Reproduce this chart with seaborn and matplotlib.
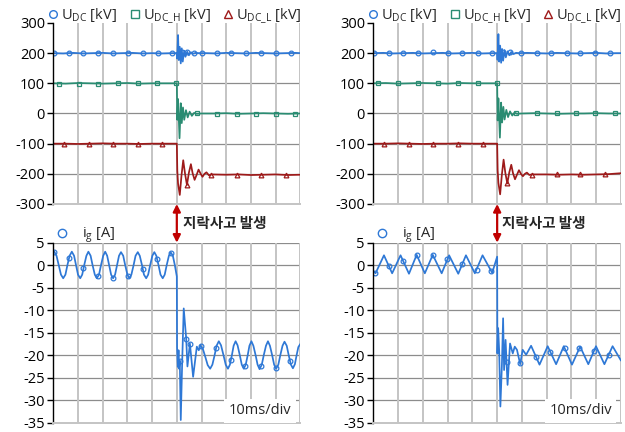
import numpy as np
import matplotlib
matplotlib.use("Agg")
import matplotlib.pyplot as plt
import seaborn as sns
from matplotlib.lines import Line2D
from matplotlib.patches import ConnectionPatch

# ---------------- data (time in ms) ----------------
# left column (case A)
udc_a_t = [0, 4, 8, 12, 16, 20, 24, 28, 32, 36, 40, 44, 48,
           50.0, 50.15, 50.5, 50.8, 51.2, 51.6, 52.0, 52.4, 53.0, 53.5, 54.2, 54.9, 55.7, 56.6, 57.6, 58.9,
           62, 66, 70, 74, 78, 82, 86, 90, 94, 98, 100]
udc_a_v = [200, 199, 201, 199, 200, 201, 199, 200, 201, 199, 200, 199, 200,
           200, 182, 260, 177, 221, 166, 216, 172, 208, 188, 205, 193, 203, 198, 201, 200,
           200, 199, 201, 200, 199, 201, 200, 199, 200, 201, 200]
udc_a_mk_t = [0.4, 6.4, 12.2, 18.2, 24.3, 30.2, 36.2, 42.2, 48.1, 52.0, 54.1, 56.8,
              60.2, 66.2, 72.0, 78.1, 84.2, 90.3, 96.2]
udc_a_mk_v = [201, 201, 200, 201, 200, 201, 201, 200, 201, 205, 204, 202,
              201, 201, 200, 201, 200, 201, 200]

udch_a_t = [0, 5, 10, 15, 20, 25, 30, 35, 40, 45, 49.8,
            50.0, 50.2, 50.5, 51.1, 51.6, 52.0, 52.5, 53.0, 53.7, 54.4, 55.2, 56.1, 57.0, 58.0,
            60, 65, 70, 75, 80, 85, 90, 95, 100]
udch_a_v = [100, 99, 101, 100, 99, 100, 101, 99, 100, 100, 100,
            100, -21, 48, -82, 34, -32, 20, -21, 11, -13, 6, -8, 2, -1,
            0, 0, 1, -1, 0, 1, 0, -1, 0]
udch_a_mk_t = [2.4, 10.4, 18.2, 26.3, 34.2, 41.9, 49.6, 58.1, 66.2, 74.3, 82.2, 90.1, 98.0]
udch_a_mk_v = [99, 99, 99, 100, 100, 100, 100, 0, -1, -1, -1, -1, -1]

udcl_a_t = [0, 5, 10, 15, 20, 25, 30, 35, 40, 45, 49.9,
            50.0, 50.2, 50.5, 51.2, 51.9, 52.6, 53.3, 54.1, 54.9, 55.7, 56.4, 57.2, 58.0, 58.8, 59.6,
            60.4, 61.2, 62.0, 63.0, 64.0,
            70, 75, 80, 85, 90, 95, 100]
udcl_a_v = [-100, -100, -101, -100, -99, -100, -100, -101, -100, -100, -100,
            -100, -190, -232, -270, -205, -155, -198, -237, -196, -168, -198, -220, -204, -186, -199,
            -210, -200, -195, -205, -202,
            -203, -202, -204, -203, -202, -204, -203]
udcl_a_mk_t = [4.5, 14.5, 24.3, 34.2, 44.2, 54.1, 63.9, 74.3, 84.2, 94.2]
udcl_a_mk_v = [-100, -100, -100, -100, -100, -236, -204, -203, -203, -203]

ig_a_t = [0.0, 0.4, 1.3, 2.2, 3.1, 4.0, 4.9, 5.7, 6.6, 7.5, 8.4, 9.2, 10.0, 10.9, 11.7, 12.5,
          13.4, 14.2, 15.1, 15.9, 16.8, 17.6, 18.5, 19.3, 20.2, 21.0, 21.8, 22.6, 23.4, 24.2,
          25.0, 25.8, 26.6, 27.4, 28.3, 29.1, 30.0, 30.8, 31.6, 32.5, 33.3, 34.2, 35.0, 35.9,
          36.7, 37.6, 38.4, 39.2, 40.1, 40.9, 41.7, 42.6, 43.4, 44.3, 45.1, 45.9, 46.8, 47.6,
          48.4, 49.2, 50.0,
          50.1, 50.4, 50.7, 50.9, 51.2, 51.6, 52.2, 52.8, 53.8, 54.3, 55.3, 56.6, 58.1, 58.9,
          59.6, 60.6, 61.6, 62.5, 63.5, 64.4, 65.3, 66.1, 67.0, 67.9, 68.9, 69.8, 70.7, 71.5,
          72.3, 73.0, 73.8, 74.6, 75.5, 76.3, 77.1, 77.9, 78.7, 79.4, 80.2, 81.0, 81.9, 82.7,
          83.5, 84.4, 85.2, 86.1, 86.9, 87.7, 88.6, 89.4, 90.2, 91.1, 91.9, 92.8, 93.6, 94.5,
          95.3, 96.2, 97.0, 97.8, 98.5, 99.2, 100.0]
ig_a_v = [2.8, 3.0, 2.1, 0.0, -2.1, -2.9, -2.1, 0.0, 2.1, 3.0, 2.1, 0.0, -2.1, -2.9, -2.1, 0.0,
          2.1, 3.0, 2.1, 0.0, -2.1, -2.9, -2.1, 0.0, 2.1, 3.0, 2.1, 0.0, -2.1, -2.9,
          -2.1, 0.0, 2.1, 2.9, 2.1, 0.0, -2.1, -2.9, -2.1, 0.0, 2.1, 2.9, 2.1, 0.0,
          -2.1, -2.9, -2.1, 0.0, 2.1, 2.9, 2.1, 0.0, -2.1, -2.9, -2.1, 0.0, 2.1, 2.8,
          2.1, 0.0, -2.5,
          -18.2, -22.6, -18.9, -23.0, -21.2, -34.4, -21.0, -9.6, -16.3, -22.5, -17.4, -24.8, -18.1, -18.9,
          -17.8, -18.7, -20.5, -22.2, -23.0, -22.1, -20.0, -17.9, -16.9, -17.8, -20.0, -22.1, -23.0, -22.1,
          -20.0, -17.9, -16.9, -17.8, -20.0, -22.1, -23.0, -22.1, -20.0, -17.9, -16.9, -17.9, -20.0, -22.1,
          -23.1, -22.1, -20.0, -17.9, -16.9, -17.9, -20.0, -22.1, -23.0, -22.1, -20.0, -17.9, -17.0, -17.9,
          -20.0, -22.1, -22.9, -22.0, -20.0, -18.2, -17.5]
ig_a_mk_t = [0.4, 6.3, 12.2, 18.2, 24.1, 30.2, 36.2, 41.9, 47.7,
             51.2, 53.8, 55.3, 59.7, 66.0, 72.0, 77.7, 84.2, 90.3, 96.0]
ig_a_mk_v = [3.0, 1.5, -0.6, -2.4, -2.9, -2.3, -0.8, 1.4, 2.8,
             -21.2, -16.3, -17.4, -17.9, -18.5, -21.0, -22.4, -22.3, -22.9, -21.2]

# right column (case B)
udc_b_t = [0, 4, 8, 12, 16, 20, 24, 28, 32, 36, 40, 44, 48,
           50.0, 50.15, 50.5, 50.8, 51.2, 51.6, 52.0, 52.4, 53.0, 53.5, 54.2, 54.9, 55.7, 56.6, 57.6, 58.9,
           62, 66, 70, 74, 78, 82, 86, 90, 94, 98, 100]
udc_b_v = [200, 201, 199, 200, 201, 199, 200, 201, 199, 200, 201, 199, 200,
           200, 178, 263, 172, 225, 168, 214, 175, 210, 186, 206, 193, 204, 197, 201, 200,
           201, 200, 199, 201, 200, 199, 200, 201, 199, 200, 200]
udc_b_mk_t = [0.3, 6.3, 12.1, 18.1, 24.2, 30.2, 36.0, 42.1, 48.1, 52.2, 55.1,
              59.8, 65.9, 71.9, 78.0, 83.6, 89.7, 95.4]
udc_b_mk_v = [201, 201, 200, 201, 203, 201, 200, 201, 201, 205, 203,
              202, 201, 201, 200, 201, 201, 200]

udch_b_t = [0, 5, 10, 15, 20, 25, 30, 35, 40, 45, 49.8,
            50.0, 50.2, 50.5, 51.1, 51.6, 52.0, 52.5, 53.0, 53.7, 54.4, 55.2, 56.1, 57.0, 58.0,
            60, 65, 70, 75, 80, 85, 90, 95, 100]
udch_b_v = [100, 101, 99, 100, 101, 100, 99, 101, 100, 100, 100,
            100, -23, 50, -80, 36, -30, 22, -20, 12, -12, 7, -7, 3, -1,
            0, 1, 0, -1, 0, 0, 1, 0, 0]
udch_b_mk_t = [2.0, 10.1, 18.1, 26.0, 34.0, 42.1, 49.8, 57.8, 65.9, 74.0, 81.7, 89.7, 97.5]
udch_b_mk_v = [100, 100, 100, 100, 100, 100, 100, 1, 0, 0, 0, 0, 0]

udcl_b_t = [0, 5, 10, 15, 20, 25, 30, 35, 40, 45, 49.9,
            50.0, 50.2, 50.5, 51.2, 51.9, 52.6, 53.3, 54.1, 54.9, 55.7, 56.4, 57.2, 58.0, 58.8, 59.6,
            60.4, 61.2, 62.0, 63.0, 64.0,
            70, 75, 80, 85, 90, 95, 100]
udcl_b_v = [-100, -100, -99, -100, -101, -100, -100, -99, -100, -100, -100,
            -100, -188, -230, -268, -203, -153, -197, -232, -195, -170, -198, -218, -203, -188, -200,
            -208, -200, -196, -204, -202,
            -202, -203, -202, -203, -202, -201, -198]
udcl_b_mk_t = [4.3, 14.4, 24.2, 34.0, 44.1, 54.0, 63.9, 74.0, 83.6, 93.7]
udcl_b_mk_v = [-100, -100, -100, -100, -100, -232, -203, -202, -202, -202]

ig_b_t = [0.0, 0.9, 4.3, 7.6, 11.0, 14.4, 17.5, 20.8, 24.0, 27.6, 30.6, 34.3, 37.4, 41.0, 44.1, 48.0,
          50.0, 50.1, 50.4, 50.8, 51.3, 51.9, 52.4, 52.8, 53.4, 54.2, 55.2, 56.3, 57.1, 58.0,
          59.3, 60.3, 61.7, 63.7, 67.1, 70.4, 73.8, 76.9, 80.2, 83.5, 86.8, 89.9, 93.3, 96.6, 100.0]
ig_b_v = [-1.3, -1.8, 2.2, -1.8, 2.2, -1.9, 2.3, -1.8, 2.3, -1.8, 2.2, -1.9, 2.2, -1.8, 2.2, -1.7,
          1.9, -19.6, -14.0, -18.8, -31.4, -22.5, -11.8, -23.3, -16.6, -26.6, -17.4, -19.6, -18.1, -18.8,
          -22.0, -18.8, -19.9, -17.9, -22.1, -18.0, -22.0, -18.0, -22.1, -18.1, -22.0, -18.0, -22.0, -18.0, -21.2]
ig_b_mk_t = [0.7, 6.3, 12.0, 17.7, 23.9, 29.8, 35.9, 41.7, 47.5,
             53.8, 59.4, 65.6, 71.5, 77.3, 83.2, 89.1, 95.0]
ig_b_mk_v = [-1.7, -0.2, 1.0, 2.2, 2.2, 1.3, 0.2, -1.0, -1.3,
             -21.6, -21.7, -20.3, -19.3, -18.5, -18.5, -19.0, -19.9]

top_yticks = [-300, -200, -100, 0, 100, 200, 300]
bot_yticks = [-35, -30, -25, -20, -15, -10, -5, 0, 5]
x_ticks = [0, 10, 20, 30, 40, 50, 60, 70, 80, 90, 100]
fault_t = 50

legend_top = [r"$\mathregular{U_{DC}}$ [kV]", r"$\mathregular{U_{DC\_H}}$ [kV]", r"$\mathregular{U_{DC\_L}}$ [kV]"]
legend_bot = r"$\mathregular{i_{g}}$ [A]"
fault_label = "지락사고 발생"
div_label = "10ms/div"

# ---------------- style ----------------
sns.set_theme(style="white")
plt.rcParams["font.family"] = ["Open Sans", "Noto Sans CJK KR", "DejaVu Sans"]
plt.rcParams["axes.unicode_minus"] = False
plt.rcParams["mathtext.fontset"] = "custom"
plt.rcParams["mathtext.rm"] = "Open Sans"
plt.rcParams["mathtext.it"] = "Open Sans:italic"

BLUE = "#2E78D6"
GREEN = "#2A8C72"
RED = "#9E1A1A"
ARROW = "#C00000"

fig = plt.figure(figsize=(6.25, 4.32), dpi=100)
ax_tl = fig.add_axes([0.0853, 0.5278, 0.3952, 0.4190])
ax_bl = fig.add_axes([0.0853, 0.0215, 0.3952, 0.4167])
ax_tr = fig.add_axes([0.5973, 0.5278, 0.3963, 0.4190])
ax_br = fig.add_axes([0.5973, 0.0215, 0.3963, 0.4167])


def style_axes(ax, yticks, top_line):
    ax.set_xlim(x_ticks[0], x_ticks[-1])
    ax.set_ylim(yticks[0], yticks[-1])
    ax.set_xticks(x_ticks)
    ax.set_yticks(yticks)
    ax.set_xticklabels([])
    ax.set_yticklabels([str(v) for v in yticks])
    ax.set_xlabel("")
    ax.set_ylabel("")
    ax.tick_params(axis="x", length=0)
    ax.tick_params(axis="y", length=4, width=1, color="black", direction="out",
                   labelsize=10.5, pad=2, labelcolor="black", left=True)
    ax.grid(False)
    ax.xaxis.grid(True, color="#C4C4C4", lw=1.4)
    for yv in (yticks[1:] if top_line else yticks[1:-1]):
        ax.axhline(yv, color="#8C8C8C", lw=0.9, zorder=0.5)
    for s in ["top", "right"]:
        ax.spines[s].set_visible(False)
    ax.spines["left"].set_color("black")
    ax.spines["left"].set_linewidth(1.0)
    ax.spines["bottom"].set_color("#C4C4C4")
    ax.spines["bottom"].set_linewidth(1.4)
    ax.set_axisbelow(True)
    ax.set_facecolor("white")


def draw(ax, t, v, mt, mv, color, marker, ms=3.4):
    sns.lineplot(x=t, y=v, ax=ax, color=color, lw=1.25, sort=False, estimator=None)
    sns.lineplot(x=mt, y=mv, ax=ax, color=color, linestyle="none", sort=False, estimator=None,
                 marker=marker, markersize=ms, markerfacecolor="none",
                 markeredgecolor=color, markeredgewidth=0.9)


panels = [
    (ax_tl, ax_bl,
     (udc_a_t, udc_a_v, udc_a_mk_t, udc_a_mk_v),
     (udch_a_t, udch_a_v, udch_a_mk_t, udch_a_mk_v),
     (udcl_a_t, udcl_a_v, udcl_a_mk_t, udcl_a_mk_v),
     (ig_a_t, ig_a_v, ig_a_mk_t, ig_a_mk_v)),
    (ax_tr, ax_br,
     (udc_b_t, udc_b_v, udc_b_mk_t, udc_b_mk_v),
     (udch_b_t, udch_b_v, udch_b_mk_t, udch_b_mk_v),
     (udcl_b_t, udcl_b_v, udcl_b_mk_t, udcl_b_mk_v),
     (ig_b_t, ig_b_v, ig_b_mk_t, ig_b_mk_v)),
]

for ax_t, ax_b, udc, udch, udcl, ig in panels:
    draw(ax_t, *udcl, RED, "^")
    draw(ax_t, *udch, GREEN, "s")
    draw(ax_t, *udc, BLUE, "o")
    draw(ax_b, *ig, BLUE, "o")
    style_axes(ax_t, top_yticks, top_line=False)
    style_axes(ax_b, bot_yticks, top_line=True)

    handles = [
        Line2D([], [], ls="none", marker="o", markerfacecolor="none", markeredgecolor=BLUE, markersize=5.5, markeredgewidth=1),
        Line2D([], [], ls="none", marker="s", markerfacecolor="none", markeredgecolor=GREEN, markersize=5.5, markeredgewidth=1),
        Line2D([], [], ls="none", marker="^", markerfacecolor="none", markeredgecolor=RED, markersize=5.5, markeredgewidth=1),
    ]
    ax_t.legend(handles, legend_top, loc="lower left", bbox_to_anchor=(-0.02, 0.985), ncol=3,
                frameon=False, handlelength=0.7, handletextpad=0.2, columnspacing=0.85,
                borderpad=0, borderaxespad=0, fontsize=10.5)
    hb = [Line2D([], [], ls="none", marker="o", markerfacecolor="none", markeredgecolor=BLUE, markersize=6, markeredgewidth=1)]
    ax_b.legend(hb, [legend_bot], loc="lower left", bbox_to_anchor=(0.01, 0.985), frameon=False,
                handlelength=0.8, handletextpad=1.0, borderpad=0, borderaxespad=0, fontsize=10.5)

    ax_b.text(0.963, 0.067, div_label, transform=ax_b.transAxes, ha="right", va="center",
              fontsize=10.5, zorder=6,
              bbox=dict(boxstyle="square,pad=0.3", fc="white", ec="none"))

    con = ConnectionPatch(xyA=(fault_t, top_yticks[0]), coordsA=ax_t.transData,
                          xyB=(fault_t, bot_yticks[-1]), coordsB=ax_b.transData,
                          arrowstyle="<|-|>", color=ARROW, lw=1.6, mutation_scale=11,
                          shrinkA=0, shrinkB=0)
    fig.add_artist(con)

fig.text(0.2928, 0.4838, fault_label, fontsize=10.5, fontweight="bold", va="center", ha="left",
         family=["Noto Sans CJK KR", "DejaVu Sans"])
fig.text(0.8027, 0.4838, fault_label, fontsize=10.5, fontweight="bold", va="center", ha="left",
         family=["Noto Sans CJK KR", "DejaVu Sans"])

fig.savefig("out.png", dpi=100)
